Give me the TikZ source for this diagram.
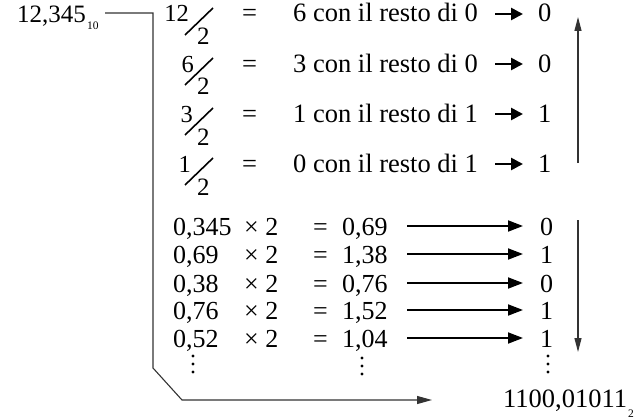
\documentclass[tikz,border=0pt]{standalone}
\usepackage{fontspec}
\setmainfont{Liberation Serif}
\usetikzlibrary{arrows.meta}
\begin{document}
\begin{tikzpicture}[x=1pt,y=-1pt,
  txt/.style={inner sep=0pt, anchor=base west, font=\fontsize{26.5}{30}\selectfont},
  ltxt/.style={inner sep=0pt, anchor=base west, font=\fontsize{26}{30}\selectfont},
  frn/.style={inner sep=0pt, anchor=base east, font=\fontsize{24.5}{28}\selectfont},
  frd/.style={inner sep=0pt, anchor=base west, font=\fontsize{25}{28}\selectfont},
  sub/.style={inner sep=0pt, anchor=base west, font=\fontsize{11.5}{13}\selectfont},
  conn/.style={draw=black!80, line width=1.1pt},
  connarr/.style={conn, -{Triangle[length=15pt,width=8pt]}},
  slash/.style={line width=1.6pt},
  bigarr/.style={line width=2.6pt, -{Triangle[length=12pt,width=12pt]}},
  longarr/.style={line width=1.8pt, -{Triangle[length=15pt,width=11pt]}},
  vertarr/.style={draw=black!80, line width=1.2pt, -{Triangle[length=14pt,width=7pt]}},
  dot/.style={fill=black, draw=none, circle, inner sep=0pt, minimum size=3.4pt},
]
\useasboundingbox (0,0) rectangle (637,420);

% source number
\node[txt, font=\fontsize{25}{30}\selectfont] (dec) at (17,23) {12,345};
\node[sub] (dec10) at (87,30) {10};

% integer part: divisions
\foreach \i/\B/\num/\nx/\q/\r in {1/22/12/189/6/0, 2/72/6/194/3/0, 3/122/3/193/1/1, 4/172/1/191/0/1} {
  \node[frn] (n\i) at (\nx,\B) {\num};
  \node[frd] (d\i) at (197,\B+23) {2};
  \draw[slash] (185,\B+13) -- (213,\B-14);
  \node[txt] (eq\i) at (242,\B) {=};
  \node[txt] (t\i) at (293,\B) {\q{} con il resto di \r};
  \node[txt] (r\i) at (538,\B) {\r};
  \coordinate (as\i) at (495,\B-8);
  \coordinate (ae\i) at (523,\B-8);
  \draw[bigarr] (as\i) -- (ae\i);
}

% fractional part: multiplications
\foreach \i/\B/\a/\p/\d in {1/235/{0,345}/{0,69}/0, 2/263/{0,69}/{1,38}/1, 3/292/{0,38}/{0,76}/0, 4/319/{0,76}/{1,52}/1, 5/347/{0,52}/{1,04}/1} {
  \node[ltxt] (m\i) at (173,\B) {\a};
  \node[ltxt] (x\i) at (244,\B) {× 2};
  \node[ltxt] (e\i) at (313,\B) {=};
  \node[ltxt] (p\i) at (342,\B) {\p};
  \node[ltxt] (b\i) at (540,\B) {\d};
  \coordinate (ls\i) at (407,\B-9);
  \coordinate (le\i) at (523,\B-9);
  \draw[longarr] (ls\i) -- (le\i);
}

% vertical dots
\foreach \x/\y in {193/356, 362/358, 548/356} {
  \node[dot] at (\x,\y) {};
  \node[dot] at (\x,\y+8) {};
  \node[dot] at (\x,\y+16) {};
}

% reading direction arrows
\coordinate (upS) at (578,163);
\coordinate (upE) at (578,17);
\draw[vertarr] (upS) -- (upE);
\coordinate (dnS) at (578,220);
\coordinate (dnE) at (578,352);
\draw[vertarr] (dnS) -- (dnE);

% result
\node[txt] (res) at (503,407) {1100,01011};
\node[sub] (res2) at (628,417) {2};

% connector
\coordinate (c0) at (105,13);
\coordinate (c1) at (153,13);
\coordinate (c2) at (153,368);
\coordinate (c3) at (182,400);
\coordinate (c4) at (432,400);
\draw[connarr] (c0) -- (c1) -- (c2) -- (c3) -- (c4);
\end{tikzpicture}
\end{document}
